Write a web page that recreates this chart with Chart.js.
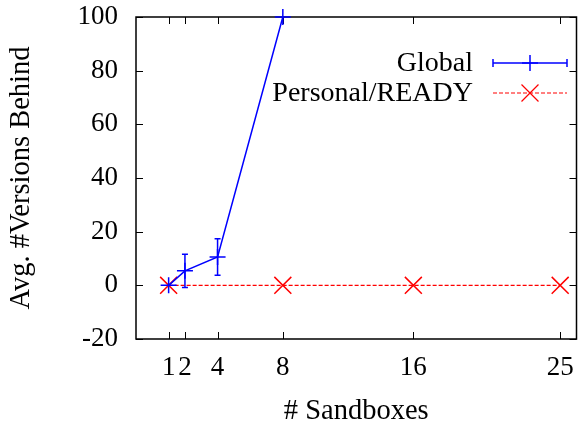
<!DOCTYPE html>
<html>
<head>
<meta charset="utf-8">
<script src="https://cdn.jsdelivr.net/npm/chart.js@4/dist/chart.umd.min.js"></script>
<style>
  html, body { margin: 0; padding: 0; background: #fff; overflow: hidden; }
  #wrap { position: absolute; left: 0; top: 0; width: 590px; height: 423px; }
</style>
</head>
<body>
<div id="wrap"><canvas id="c" width="590" height="423"></canvas></div>
<script>
// Sandbox counts used as x tick positions
const sandboxTicks = [1, 2, 4, 8, 16, 25];
const yTickStep = 20;

// Global: average versions behind, with error (±)
const globalSandboxes = [1, 2, 4, 8];
const globalAvg = [0, 5.4, 10.6, 100];
const globalErr = [0, 6.2, 6.8, 0];

// Personal/READY
const personalSandboxes = [1, 8, 16, 25];
const personalAvg = [0, 0, 0, 0];

const FAMILY = '"Liberation Serif", "Times New Roman", serif';
const TICK_FONT = { family: FAMILY, size: 27 };
const TITLE_FONT = { family: FAMILY, size: 28.5, lineHeight: 1 };
const KEY_SIZE = 28;
const INK = '#000';

const toPoints = (xs, ys) => xs.map((x, i) => ({ x, y: ys[i] }));

// Border with inward, mirrored tick marks
const frame = {
  id: 'frame',
  beforeDatasetsDraw(chart) {
    const { ctx, chartArea: a, scales: { x, y } } = chart;
    const len = 7;
    ctx.save();
    ctx.strokeStyle = INK;
    ctx.lineWidth = 1.5;
    ctx.beginPath();
    ctx.rect(a.left, a.top, a.right - a.left, a.bottom - a.top);
    ctx.stroke();
    ctx.lineWidth = 1;
    ctx.beginPath();
    x.ticks.forEach(t => {
      const px = Math.round(x.getPixelForValue(t.value)) + 0.5;
      ctx.moveTo(px, a.bottom); ctx.lineTo(px, a.bottom - len);
      ctx.moveTo(px, a.top); ctx.lineTo(px, a.top + len);
    });
    y.ticks.forEach(t => {
      const py = Math.round(y.getPixelForValue(t.value)) + 0.5;
      ctx.moveTo(a.left, py); ctx.lineTo(a.left + len, py);
      ctx.moveTo(a.right, py); ctx.lineTo(a.right - len, py);
    });
    ctx.stroke();
    ctx.restore();
  }
};

// Vertical error bars with small caps
const errorBars = {
  id: 'errorBars',
  afterDatasetsDraw(chart) {
    const { ctx, scales: { x, y } } = chart;
    chart.data.datasets.forEach(ds => {
      if (!ds.errors) return;
      ctx.save();
      ctx.strokeStyle = ds.borderColor;
      ctx.lineWidth = 1.5;
      ds.data.forEach((p, i) => {
        const e = ds.errors[i];
        if (!e) return;
        const px = x.getPixelForValue(p.x);
        const y1 = y.getPixelForValue(p.y - e);
        const y2 = y.getPixelForValue(p.y + e);
        const cap = 3;
        ctx.beginPath();
        ctx.moveTo(px, y1); ctx.lineTo(px, y2);
        ctx.moveTo(px - cap, y1); ctx.lineTo(px + cap, y1);
        ctx.moveTo(px - cap, y2); ctx.lineTo(px + cap, y2);
        ctx.stroke();
      });
      ctx.restore();
    });
  }
};

// Key: label text on the left, line sample on the right
const keyBox = {
  id: 'keyBox',
  afterDraw(chart) {
    const { ctx } = chart;
    const textRight = 473, x0 = 493, x1 = 567, rowTop = 63, rowGap = 30;
    ctx.save();
    ctx.font = `${KEY_SIZE}px ${FAMILY}`;
    ctx.textAlign = 'right';
    ctx.textBaseline = 'middle';
    chart.data.datasets.forEach((ds, i) => {
      const yy = rowTop + i * rowGap;
      ctx.fillStyle = INK;
      ctx.fillText(ds.label, textRight, yy + 1);
      ctx.strokeStyle = ds.borderColor;
      ctx.lineWidth = ds.borderWidth;
      ctx.setLineDash(ds.borderDash || []);
      ctx.beginPath();
      ctx.moveTo(x0, yy); ctx.lineTo(x1, yy);
      ctx.stroke();
      ctx.setLineDash([]);
      if (ds.errors) {
        ctx.beginPath();
        ctx.moveTo(x0, yy - 4); ctx.lineTo(x0, yy + 4);
        ctx.moveTo(x1, yy - 4); ctx.lineTo(x1, yy + 4);
        ctx.stroke();
      }
      Chart.helpers.drawPoint(ctx, {
        pointStyle: ds.pointStyle, radius: ds.pointRadius, borderWidth: ds.pointBorderWidth
      }, (x0 + x1) / 2, yy);
    });
    ctx.restore();
  }
};

new Chart(document.getElementById('c'), {
  type: 'line',
  data: {
    datasets: [
      {
        label: 'Global',
        data: toPoints(globalSandboxes, globalAvg),
        errors: globalErr,
        borderColor: '#0000ff',
        backgroundColor: '#0000ff',
        borderWidth: 1.5,
        pointStyle: 'cross',
        pointRadius: 8,
        pointBorderWidth: 1.5,
        pointBorderColor: '#0000ff',
        tension: 0,
        clip: false
      },
      {
        label: 'Personal/READY',
        data: toPoints(personalSandboxes, personalAvg),
        borderColor: '#ff0000',
        backgroundColor: '#ff0000',
        borderWidth: 1.2,
        borderDash: [4, 2],
        pointStyle: 'crossRot',
        pointRadius: 12,
        pointBorderWidth: 1.5,
        pointBorderColor: '#ff0000',
        tension: 0,
        clip: false
      }
    ]
  },
  options: {
    responsive: false,
    animation: false,
    events: [],
    layout: { padding: { top: 17, right: 6, left: 0, bottom: 0 } },
    plugins: { legend: { display: false }, tooltip: { enabled: false } },
    scales: {
      x: {
        type: 'linear',
        min: -1,
        max: 26,
        grid: { display: false, drawTicks: false },
        border: { display: false },
        afterBuildTicks: s => { s.ticks = sandboxTicks.map(v => ({ value: v })); },
        afterFit: s => { s.height = 84; s.paddingLeft = 0; s.paddingRight = 0; },
        ticks: { font: TICK_FONT, color: INK, padding: 13, autoSkip: false, maxRotation: 0 },
        title: {
          display: true, text: '# Sandboxes', color: INK,
          font: TITLE_FONT, padding: { top: 0, bottom: -3 }
        }
      },
      y: {
        min: -20,
        max: 100,
        grid: { display: false, drawTicks: false },
        border: { display: false },
        ticks: { stepSize: yTickStep, font: TICK_FONT, color: INK, padding: 18 },
        afterFit: s => { s.width = 136; s.paddingTop = 0; s.paddingBottom = 0; },
        title: {
          display: true, text: 'Avg. #Versions Behind', color: INK,
          font: TITLE_FONT, padding: { top: 7.5, bottom: 0 }
        }
      }
    }
  },
  plugins: [frame, errorBars, keyBox]
});
</script>
</body>
</html>
